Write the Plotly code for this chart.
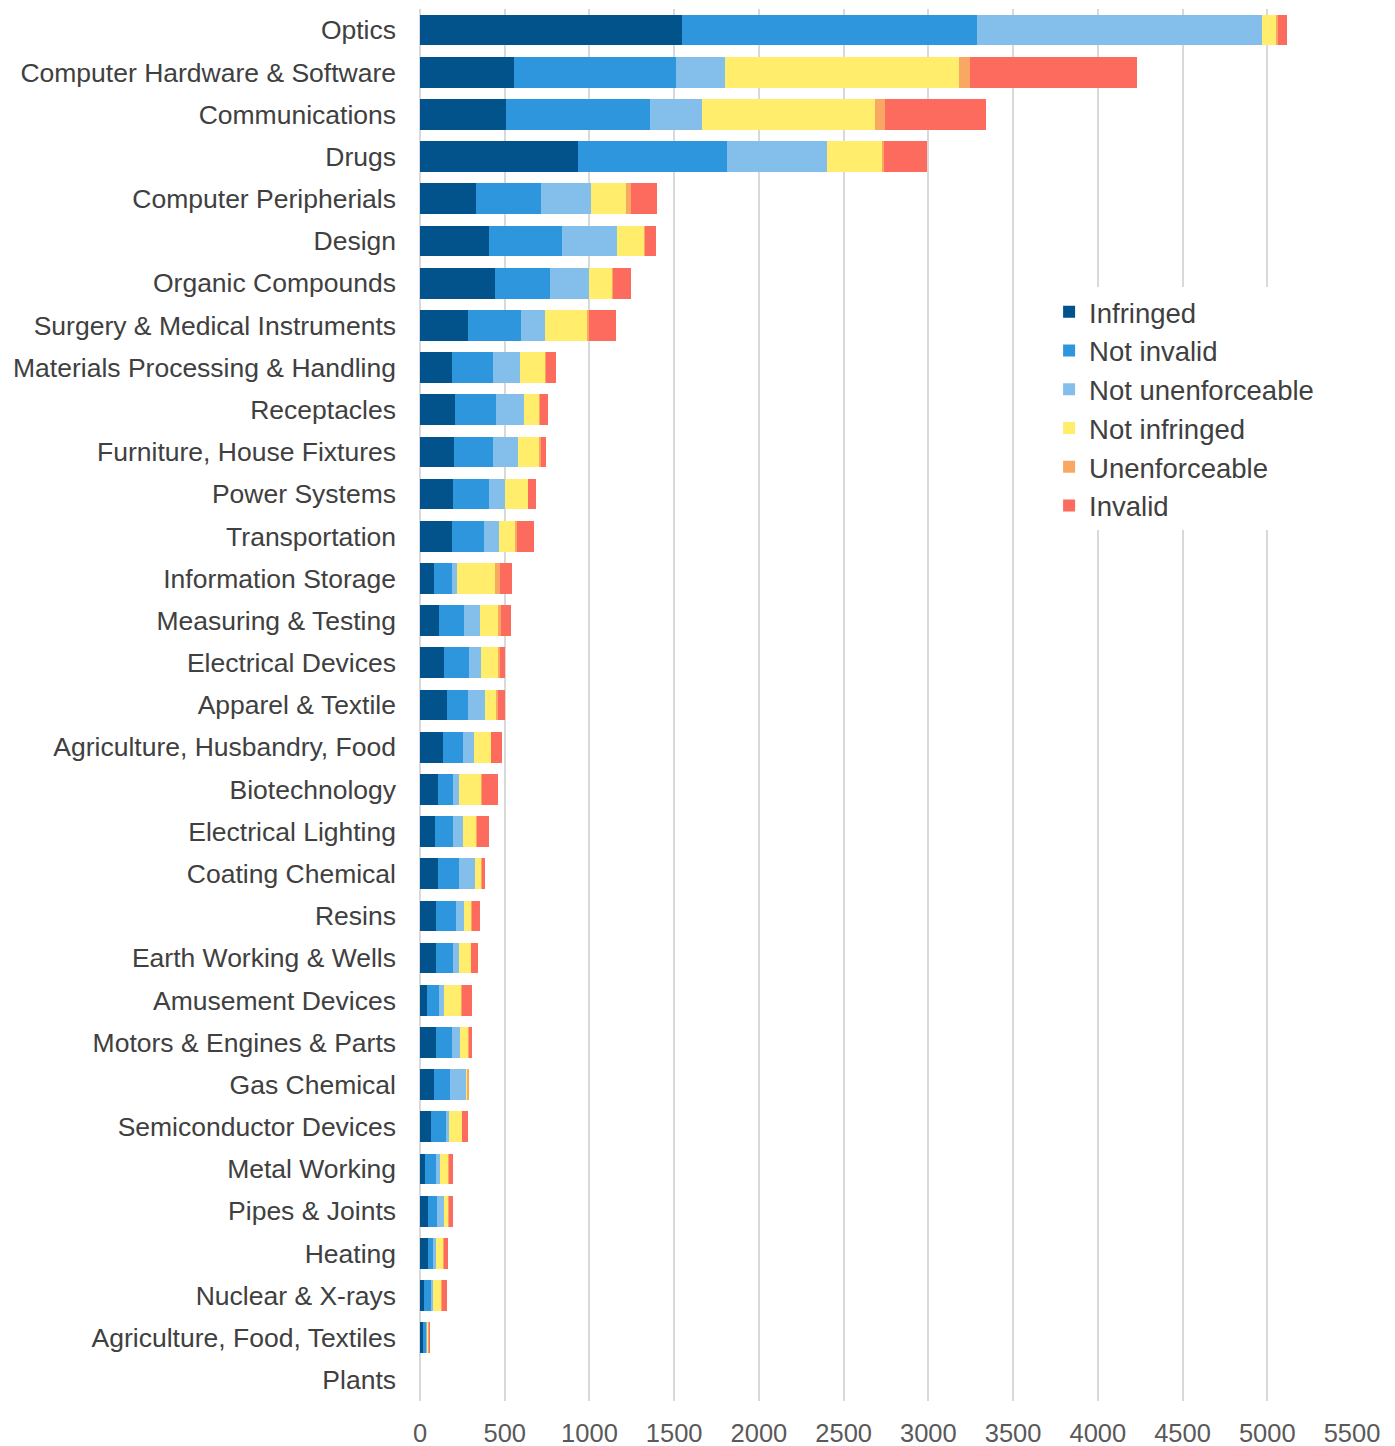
import plotly.graph_objects as go

categories = [
    "Optics", "Computer Hardware & Software", "Communications", "Drugs",
    "Computer Peripherials", "Design", "Organic Compounds",
    "Surgery & Medical Instruments", "Materials Processing & Handling",
    "Receptacles", "Furniture, House Fixtures", "Power Systems",
    "Transportation", "Information Storage", "Measuring & Testing",
    "Electrical Devices", "Apparel & Textile", "Agriculture, Husbandry, Food",
    "Biotechnology", "Electrical Lighting", "Coating Chemical", "Resins",
    "Earth Working & Wells", "Amusement Devices", "Motors & Engines & Parts",
    "Gas Chemical", "Semiconductor Devices", "Metal Working", "Pipes & Joints",
    "Heating", "Nuclear & X-rays", "Agriculture, Food, Textiles", "Plants",
]

infringed = [1547, 557, 510, 935, 332, 409, 445, 283, 187, 207, 201, 193, 187, 84, 114,
             143, 161, 136, 108, 89, 108, 94, 94, 41, 94, 83, 65, 30, 49, 49, 25, 20, 0]
not_invalid = [1741, 954, 848, 877, 382, 427, 321, 313, 242, 243, 232, 216, 191, 107, 146,
               148, 124, 118, 87, 106, 122, 119, 101, 71, 93, 96, 90, 66, 51, 28, 38, 17, 0]
not_unenforceable = [1683, 289, 307, 592, 294, 327, 232, 144, 161, 166, 146, 95, 88, 27, 96,
                     69, 100, 65, 35, 59, 97, 47, 35, 30, 51, 93, 16, 24, 42, 17, 14, 6, 0]
not_infringed = [84, 1382, 1019, 327, 208, 161, 137, 246, 152, 91, 125, 134, 99, 223, 110,
                 106, 65, 100, 132, 77, 33, 45, 71, 104, 49, 10, 77, 49, 27, 42, 47, 10, 0]
unenforceable = [6, 63, 63, 10, 28, 5, 5, 10, 4, 4, 10, 2, 6, 31, 10,
                 4, 8, 2, 4, 4, 4, 2, 2, 4, 2, 5, 2, 4, 4, 4, 4, 2, 0]
invalid = [57, 986, 596, 248, 155, 62, 106, 163, 57, 43, 30, 43, 100, 71, 59,
           32, 44, 61, 93, 72, 20, 45, 38, 59, 18, 0, 32, 22, 22, 25, 31, 2, 0]

series = [
    ("Infringed", infringed, "#02528C"),
    ("Not invalid", not_invalid, "#2E96DD"),
    ("Not unenforceable", not_unenforceable, "#83BFEA"),
    ("Not infringed", not_infringed, "#FFED6B"),
    ("Unenforceable", unenforceable, "#F8A862"),
    ("Invalid", invalid, "#FC6B5E"),
]

x_ticks = list(range(0, 5501, 500))

fig = go.Figure()
for name, vals, color in series:
    fig.add_trace(go.Bar(
        y=categories, x=vals, name=name, orientation="h",
        marker=dict(color=color, line=dict(width=0)),
    ))

font_family = "Arial, Liberation Sans, sans-serif"
fig.update_layout(
    barmode="stack",
    bargap=0.27,
    width=1387, height=1438,
    margin=dict(l=412, r=43, t=1, b=45, autoexpand=False),
    plot_bgcolor="white", paper_bgcolor="white",
    font=dict(family=font_family, size=26, color="#404040"),
    xaxis=dict(
        range=[0, 5500], tickvals=x_ticks, showgrid=True, automargin=False,
        gridcolor="#D9D9D9", gridwidth=1.5, zeroline=True,
        zerolinecolor="#D9D9D9", zerolinewidth=1.5, ticklabelstandoff=14,
        tickfont=dict(size=25.5, color="#595959"), fixedrange=True,
    ),
    yaxis=dict(
        autorange="reversed", showgrid=False, ticklabelstandoff=23,
        automargin=False,
        tickfont=dict(size=26.5, color="#404040"),
    ),
    legend=dict(
        x=0.675, y=0.800, xanchor="left", yanchor="top",
        bgcolor="white", font=dict(size=27.5, color="#404040"),
        traceorder="normal", tracegroupgap=0, itemwidth=30,
    ),
)

fig.write_html("out.html")
